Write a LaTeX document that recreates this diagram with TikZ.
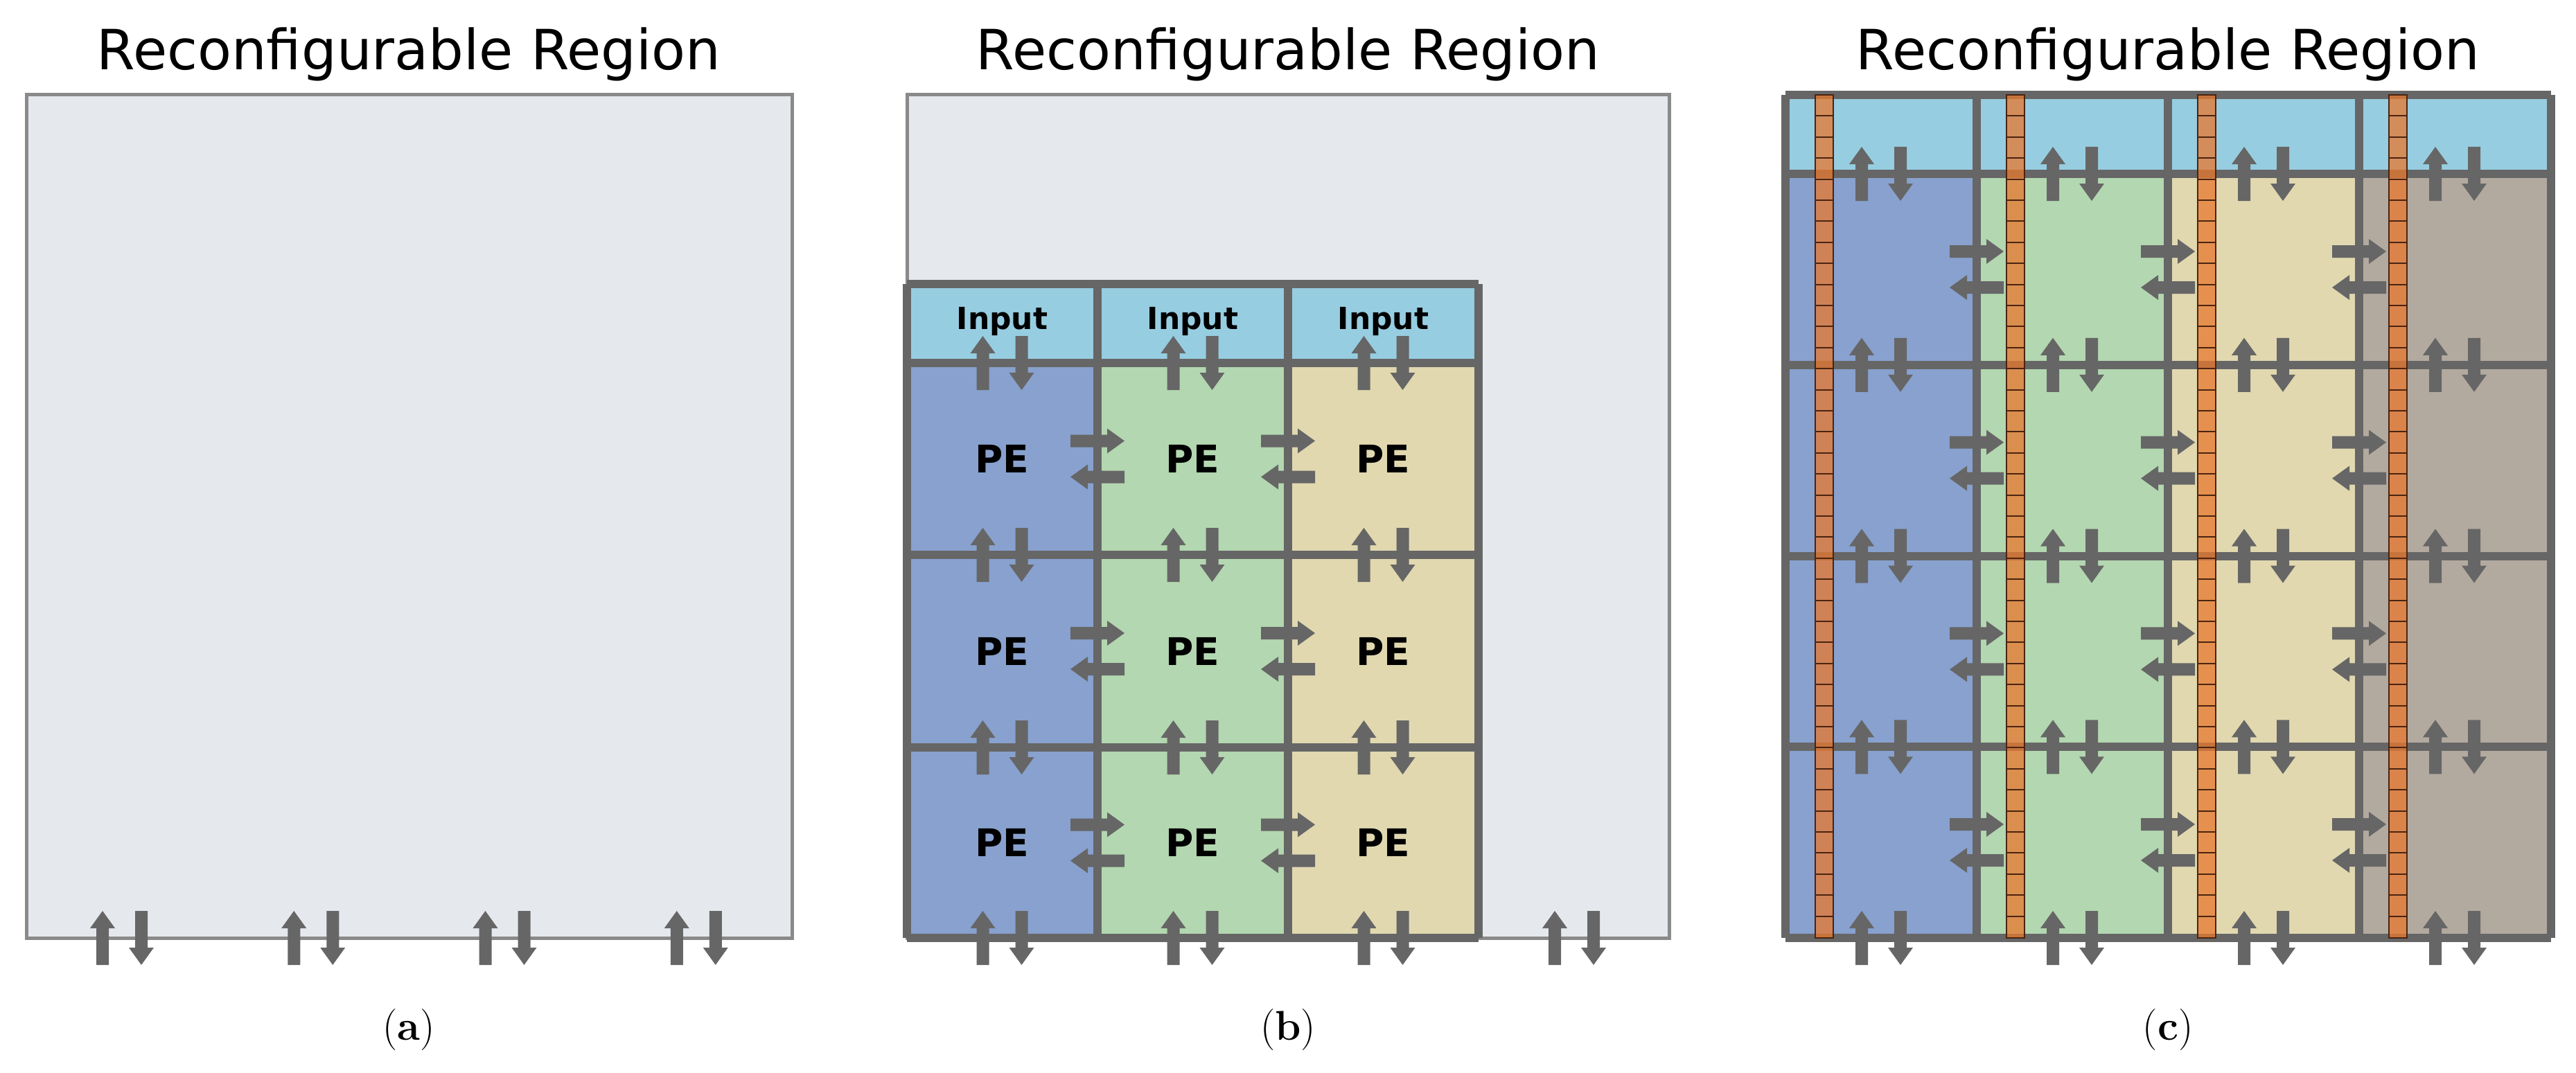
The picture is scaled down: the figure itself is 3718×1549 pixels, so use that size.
\documentclass[tikz,border=0pt]{standalone}
\usepackage{fontspec}
\setmainfont{DejaVu Sans}
\newfontfamily\capfont{Latin Modern Roman}
\definecolor{regfill}{HTML}{E5E8ED}
\definecolor{regline}{HTML}{8A8A8A}
\definecolor{gridc}{HTML}{666666}
\definecolor{inpc}{HTML}{97CDE1}
\definecolor{bluec}{HTML}{88A1CE}
\definecolor{greenc}{HTML}{B3D7B0}
\definecolor{yellc}{HTML}{E1D8B0}
\definecolor{brownc}{HTML}{B3AA9F}
\definecolor{strip}{HTML}{E8782F}
\definecolor{stripl}{HTML}{4A2410}
\begin{document}
\begin{tikzpicture}[x=1pt,y=-1pt,
  arr/.style={fill=gridc},
  grid/.style={draw=gridc,line width=12pt},
  region/.style={fill=regfill,draw=regline,line width=5pt},
  title/.style={font=\fontsize{80}{90}\selectfont,anchor=center},
  subcap/.style={font=\capfont\fontsize{60}{70}\selectfont,anchor=center},
  pe/.style={font=\bfseries\fontsize{55}{60}\selectfont},
  inp/.style={font=\bfseries\fontsize{44}{50}\selectfont},
  pics/up/.style={code={\fill[arr] (-9,39)--(-9,-14)--(-18,-14)--(0,-39)--(18,-14)--(9,-14)--(9,39)--cycle;}},
  pics/dn/.style={code={\fill[arr] (-9,-39)--(-9,14)--(-18,14)--(0,39)--(18,14)--(9,14)--(9,-39)--cycle;}},
  pics/rt/.style={code={\fill[arr] (-39,-9)--(14,-9)--(14,-18)--(39,0)--(14,18)--(14,9)--(-39,9)--cycle;}},
  pics/lf/.style={code={\fill[arr] (39,-9)--(-14,-9)--(-14,-18)--(-39,0)--(-14,18)--(-14,9)--(39,9)--cycle;}},
  pics/vpair/.style={code={\pic at (-28,0) {up}; \pic at (28,0) {dn};}},
  pics/hpair/.style={code={\pic at (0,-26) {rt}; \pic at (0,26) {lf};}}
]
\useasboundingbox (0,0) rectangle (3718,1549);

% ---------- (a) ----------
\node[title] (ta) at (590,78) {Reconfigurable Region};
\draw[region] (38,137) rectangle (1143,1354);
\foreach \i in {0,...,3} \pic at ({38+138+276.25*\i},1354) {vpair};
\node[subcap] (ca) at (590,1487) {(\textbf{a})};

% ---------- (b) ----------
\node[title] (tb) at (1859,78) {Reconfigurable Region};
\draw[region] (1309,137) rectangle (2409,1354);
\fill[inpc] (1309,410) rectangle (2134,524);
\fill[bluec] (1309,524) rectangle (1584,1354);
\fill[greenc] (1584,524) rectangle (1859,1354);
\fill[yellc] (1859,524) rectangle (2134,1354);
\foreach \y in {410,524,801,1079,1354} \draw[grid] (1309,\y) -- (2134,\y);
\foreach \x in {1309,1584,1859,2134} \draw[grid] (\x,410) -- (\x,1354);
\foreach \i [count=\k] in {0,1,2} {
  \node[inp] (in\k) at ({1446.5+275*\i},464) {Input};
  \foreach \r [count=\j] in {662.5,940,1216.5}
    \node[pe] (pe\k\j) at ({1446.5+275*\i},\r) {PE};
}
\foreach \cx in {1446.5,1721.5,1996.5}
  \foreach \y in {524,801,1079,1354} \pic at (\cx,\y) {vpair};
\pic at (2272,1354) {vpair};
\foreach \x in {1584,1859}
  \foreach \r in {662.5,940,1216.5} \pic at (\x,\r) {hpair};
\node[subcap] (cb) at (1859,1487) {(\textbf{b})};

% ---------- (c) ----------
\node[title] (tc) at (3129,78) {Reconfigurable Region};
\fill[inpc] (2577,137) rectangle (3682,251);
\fill[bluec] (2577,251) rectangle (2853,1354);
\fill[greenc] (2853,251) rectangle (3129,1354);
\fill[yellc] (3129,251) rectangle (3405,1354);
\fill[brownc] (3405,251) rectangle (3682,1354);
\foreach \y in {137,251,526.75,802.5,1078.25,1354} \draw[grid] (2577,\y) -- (3682,\y);
\foreach \x in {2577,2853,3129,3405,3682} \draw[grid] (\x,137) -- (\x,1354);
\foreach \x in {2577,2853,3129,3405} {
  \fill[strip,opacity=0.75] (\x+43,137) rectangle (\x+69,1354);
  \foreach \s in {0,...,39}
    \draw[stripl,line width=2pt] (\x+43,{137+30.4*\s}) -- (\x+69,{137+30.4*\s});
  \draw[stripl,line width=1.5pt] (\x+43,137) rectangle (\x+69,1354);
}
\foreach \cx in {2715,2991,3267,3543}
  \foreach \y in {251,526.75,802.5,1078.25,1354} \pic at (\cx,\y) {vpair};
\foreach \x in {2853,3129,3405}
  \foreach \r in {389,664.6,940.4,1216} \pic at (\x,\r) {hpair};
\node[subcap] (cc) at (3129,1487) {(\textbf{c})};
\end{tikzpicture}
\end{document}
